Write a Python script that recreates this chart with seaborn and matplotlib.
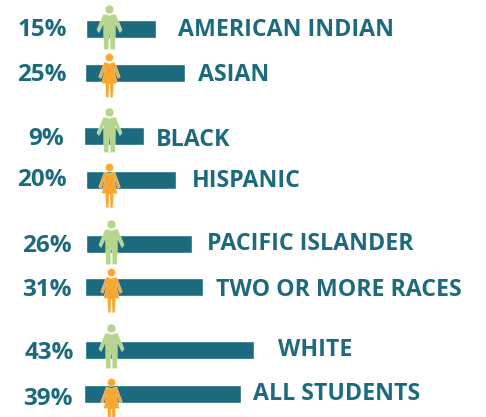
import numpy as np
import pandas as pd
import matplotlib
matplotlib.use('Agg')
from matplotlib import pyplot as plt
from matplotlib.path import Path
import seaborn as sns

groups = ['AMERICAN INDIAN', 'ASIAN', 'BLACK', 'HISPANIC', 'PACIFIC ISLANDER', 'TWO OR MORE RACES', 'WHITE', 'ALL STUDENTS']
pct_labels = ['15%', '25%', '9%', '20%', '26%', '31%', '43%', '39%']

# bars as they sit on the page, read in pixels
bar_y = [28.5, 72.5, 135.5, 179.5, 243.5, 286.5, 349.5, 393.5]
bar_start = [86, 85, 84, 86, 86, 85, 85, 84]
bar_len = [70, 100, 60, 90, 106, 118, 169, 157]

pct_x = [42, 42, 46, 42, 47, 47, 49, 48]
pct_y = [30, 75, 139, 180, 246, 290, 353, 399]
label_x = [178, 198, 156, 192, 207, 216, 278, 253]
label_y = [29.5, 74.5, 139.5, 180.5, 243.5, 290.5, 350.5, 394.5]

man_x = [108.7, 109, 110.7, 111]
man_y = [8.7, 112, 223.7, 327.7]
woman_x = [109, 109.3, 111, 111.3]
woman_y = [57.3, 167.3, 272.3, 382]

teal = '#1c6a7e'
green = '#b5d58e'
orange = '#fba62f'

man_body = [(0, 6), (-3, 5), (-6.3, 4.8), (-12.6, 20.5), (-10.4, 23), (-5.8, 13.5), (-5.6, 40), (-0.8, 40),
            (-0.5, 25), (0.5, 25), (0.8, 40), (5.6, 40), (5.8, 13.5), (10.4, 23), (12.6, 20.5), (6.3, 4.8), (3, 5), (0, 6)]
woman_body = [(0, 6), (-5.2, 4.4), (-10.8, 19.5), (-8.4, 20.8), (-5, 12), (-4.6, 13), (-8, 26), (-4, 26), (-3.4, 40.3),
              (-0.7, 40.3), (-0.4, 26.5), (0.4, 26.5), (0.7, 40.3), (3.4, 40.3), (4, 26), (8, 26), (4.6, 13), (5, 12),
              (8.4, 20.8), (10.8, 19.5), (5.2, 4.4), (0, 6)]


def person(body, r):
    # y is flipped because markers are drawn y-up
    pts = np.array(body) * [1, -1]
    return Path.make_compound_path(Path.circle((0, 0), r), Path(pts, closed=True))


def marker_size(p):
    # one path unit = one pixel at dpi 100
    return (1.44 * np.abs(p.vertices).max()) ** 2


df = pd.DataFrame({'group': groups, 'y': bar_y, 'length': bar_len})

sns.set_style('white')
plt.rcParams['font.family'] = ['Open Sans', 'DejaVu Sans']

fig = plt.figure(figsize=(4.86, 4.17), dpi=100)
ax = fig.add_axes([0, 0, 1, 1])

sns.barplot(data=df, x='length', y='y', orient='h', native_scale=True, color=teal, saturation=1,
            width=18 / 43, left=bar_start, ax=ax)

man = person(man_body, 4.3)
woman = person(woman_body, 4)
sns.scatterplot(x=man_x, y=man_y, marker=man, s=marker_size(man), color=green, edgecolor='#eef5e4', linewidth=0.3, ax=ax, zorder=3)
sns.scatterplot(x=woman_x, y=woman_y, marker=woman, s=marker_size(woman), color=orange, edgecolor='#fdeed6', linewidth=0.3, ax=ax, zorder=3)

for i in range(len(groups)):
    ax.text(pct_x[i], pct_y[i], pct_labels[i], color=teal, fontsize=17.5, fontweight='bold', ha='center', va='center')
    ax.text(label_x[i], label_y[i], groups[i], color=teal, fontsize=16.7, fontweight='bold', ha='left', va='center')

ax.set_xlim(0, 486)
ax.set_ylim(417, 0)
ax.axis('off')

fig.savefig('out.png', dpi=100)
